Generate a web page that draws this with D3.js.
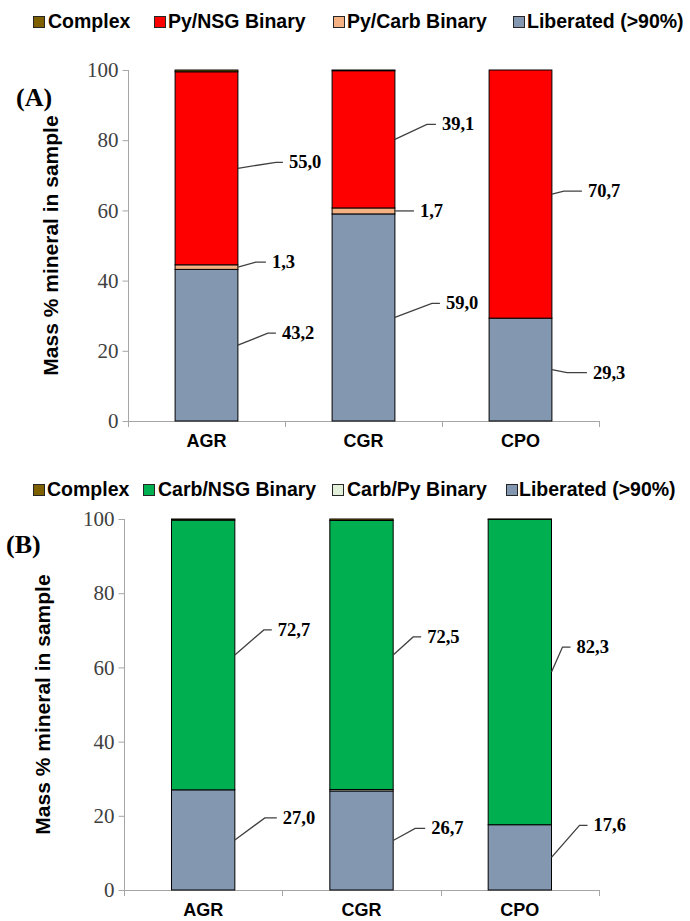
<!DOCTYPE html>
<html>
<head>
<meta charset="utf-8">
<script src="https://cdn.jsdelivr.net/npm/d3@7"></script>
<style>
  html, body { margin: 0; padding: 0; background: #fff; }
  svg { display: block; }
</style>
</head>
<body>
<svg id="chart" width="690" height="921"></svg>
<script>
// ---- data ----
const categories = ["AGR", "CGR", "CPO"];
const yTicks = [0, 20, 40, 60, 80, 100];

// Panel A: pyrite association
const seriesA = ["Liberated (>90%)", "Py/Carb Binary", "Py/NSG Binary", "Complex"];
const liberatedA = [43.2, 59.0, 29.3];
const pyCarbA = [1.3, 1.7, 0];
const pyNsgA = [55.0, 39.1, 70.7];
const complexA = [0.5, 0.2, 0];

// Panel B: carbonate association
const seriesB = ["Liberated (>90%)", "Carb/Py Binary", "Carb/NSG Binary", "Complex"];
const liberatedB = [27.0, 26.7, 17.6];
const carbPyB = [0, 0.4, 0];
const carbNsgB = [72.7, 72.5, 82.3];
const complexB = [0.3, 0.4, 0.1];

// legend order (left to right)
const legendOrderA = ["Complex", "Py/NSG Binary", "Py/Carb Binary", "Liberated (>90%)"];
const legendOrderB = ["Complex", "Carb/NSG Binary", "Carb/Py Binary", "Liberated (>90%)"];

// ---- styles ----
const colors = {
  "Complex": "#7F6000",
  "Py/NSG Binary": "#FF0000",
  "Py/Carb Binary": "#F4B183",
  "Carb/NSG Binary": "#00B050",
  "Carb/Py Binary": "#E2F0D9",
  "Liberated (>90%)": "#8497B0"
};

// leader-line shapes per labelled segment: [elbow dx, elbow dy, horizontal run]
const leadersA = {
  "AGR|Py/NSG Binary": [38, -6, 7],
  "AGR|Py/Carb Binary": [18, -5, 10],
  "AGR|Liberated (>90%)": [30, -12, 8],
  "CGR|Py/NSG Binary": [32, -15, 9],
  "CGR|Py/Carb Binary": [0, 0, 19],
  "CGR|Liberated (>90%)": [37, -14, 8],
  "CPO|Py/NSG Binary": [12, -3, 18],
  "CPO|Liberated (>90%)": [15, 3, 20]
};
const leadersB = {
  "AGR|Carb/NSG Binary": [29, -25, 8],
  "AGR|Liberated (>90%)": [30, -22, 12],
  "CGR|Carb/NSG Binary": [20, -18, 8],
  "CGR|Liberated (>90%)": [22, -12, 10],
  "CPO|Carb/NSG Binary": [11, -25, 8],
  "CPO|Liberated (>90%)": [28, -32, 8]
};

const svg = d3.select("#chart");
const fmt = v => d3.format(".1f")(v).replace(".", ",");

function drawPanel(opts) {
  const { series, values, legendOrder, legendX, legendTextX, legendY,
          left, right, top, bottom, tag, tagY, titleX, leaders, labelled } = opts;

  const rows = categories.map((c, i) => {
    const r = { category: c };
    series.forEach((s, k) => { r[s] = values[k][i]; });
    return r;
  });
  const stacked = d3.stack().keys(series)(rows);

  const x = d3.scaleBand().domain(categories).range([left, right])
    .paddingInner(0.6).paddingOuter(0.3);
  const y = d3.scaleLinear().domain([0, 100]).range([bottom, top]);
  const g = svg.append("g");

  // legend
  const lg = g.append("g");
  legendOrder.forEach((s, i) => {
    lg.append("rect")
      .attr("x", legendX[i] + 0.5).attr("y", legendY - 11.5)
      .attr("width", 11).attr("height", 11)
      .attr("fill", colors[s]).attr("stroke", "#262626").attr("stroke-width", 1);
    lg.append("text")
      .attr("x", legendTextX[i]).attr("y", legendY)
      .attr("font-family", "Liberation Sans, Arial, sans-serif")
      .attr("font-weight", "bold").attr("font-size", 19.5)
      .attr("fill", "#000").text(s);
  });

  // y axis
  const yAxis = d3.axisLeft(y).tickValues(yTicks).tickSize(6).tickPadding(4);
  const ya = g.append("g").attr("transform", `translate(${left + 0.5},0)`).call(yAxis);
  ya.select(".domain").attr("stroke", "#A6A6A6").attr("d", `M0,${top}V${bottom + 6}`);
  ya.selectAll(".tick line").attr("stroke", "#A6A6A6").attr("x1", -6).attr("x2", 0);
  ya.selectAll(".tick text")
    .attr("font-family", "Liberation Serif, Times New Roman, serif")
    .attr("font-size", 21).attr("fill", "#404040");

  // x axis baseline with boundary ticks
  const xa = g.append("g");
  xa.append("line").attr("x1", left).attr("x2", right)
    .attr("y1", bottom + 0.5).attr("y2", bottom + 0.5).attr("stroke", "#A6A6A6");
  const step = x.step();
  categories.forEach((c, i) => {
    const bx = Math.round(left + step * (i + 1)) + 0.5;
    xa.append("line").attr("x1", bx).attr("x2", bx)
      .attr("y1", bottom).attr("y2", bottom + 6).attr("stroke", "#A6A6A6");
  });
  xa.selectAll("text.cat").data(categories).join("text")
    .attr("class", "cat")
    .attr("x", d => x(d) + x.bandwidth() / 2).attr("y", bottom + 26)
    .attr("text-anchor", "middle")
    .attr("font-family", "Liberation Sans, Arial, sans-serif")
    .attr("font-weight", "bold").attr("font-size", 18).text(d => d);

  // y title
  g.append("text")
    .attr("transform", `translate(${titleX},${(top + bottom) / 2}) rotate(-90)`)
    .attr("text-anchor", "middle")
    .attr("font-family", "Liberation Sans, Arial, sans-serif")
    .attr("font-weight", "bold").attr("font-size", 21)
    .text("Mass % mineral in sample");

  // panel tag
  g.append("text").attr("x", tag.x).attr("y", tagY)
    .attr("font-family", "Liberation Serif, Times New Roman, serif")
    .attr("font-weight", "bold").attr("font-size", 26).text(tag.text);

  // stacked bars
  g.append("g").selectAll("g").data(stacked).join("g")
    .attr("fill", d => colors[d.key])
    .selectAll("rect").data(d => d.filter(p => p[1] - p[0] > 0)).join("rect")
    .attr("x", p => x(p.data.category))
    .attr("width", x.bandwidth())
    .attr("y", p => y(p[1]))
    .attr("height", p => y(p[0]) - y(p[1]))
    .attr("stroke", "#000").attr("stroke-width", 1);

  // value labels with leader lines
  const lab = g.append("g");
  stacked.forEach(layer => {
    if (!labelled.includes(layer.key)) return;
    layer.forEach(p => {
      const v = p[1] - p[0];
      if (v <= 0) return;
      const key = p.data.category + "|" + layer.key;
      const ld = leaders[key];
      if (!ld) return;
      const x0 = x(p.data.category) + x.bandwidth();
      const y0 = y((p[0] + p[1]) / 2);
      const ex = x0 + ld[0], ey = y0 + ld[1];
      const hx = ex + ld[2];
      lab.append("path")
        .attr("d", `M${x0},${y0}L${ex},${ey}L${hx},${ey}`)
        .attr("fill", "none").attr("stroke", "#404040").attr("stroke-width", 1.3);
      lab.append("text")
        .attr("x", hx + 6).attr("y", ey + 6)
        .attr("font-family", "Liberation Serif, Times New Roman, serif")
        .attr("font-weight", "bold").attr("font-size", 18.5)
        .attr("fill", "#000").text(fmt(v));
    });
  });
}

drawPanel({
  series: seriesA,
  values: [liberatedA, pyCarbA, pyNsgA, complexA],
  legendOrder: legendOrderA,
  legendX: [33, 154, 333, 513],
  legendTextX: [48, 168, 347, 527],
  legendY: 28,
  left: 128, right: 599, top: 70, bottom: 421,
  tag: { x: 16, text: "(A)" }, tagY: 106,
  titleX: 58,
  leaders: leadersA,
  labelled: ["Liberated (>90%)", "Py/Carb Binary", "Py/NSG Binary"]
});

drawPanel({
  series: seriesB,
  values: [liberatedB, carbPyB, carbNsgB, complexB],
  legendOrder: legendOrderB,
  legendX: [33, 143, 332, 506],
  legendTextX: [47, 158, 347, 519],
  legendY: 496,
  left: 124, right: 599, top: 519, bottom: 890,
  tag: { x: 6, text: "(B)" }, tagY: 553,
  titleX: 50,
  leaders: leadersB,
  labelled: ["Liberated (>90%)", "Carb/NSG Binary"]
});
</script>
</body>
</html>
